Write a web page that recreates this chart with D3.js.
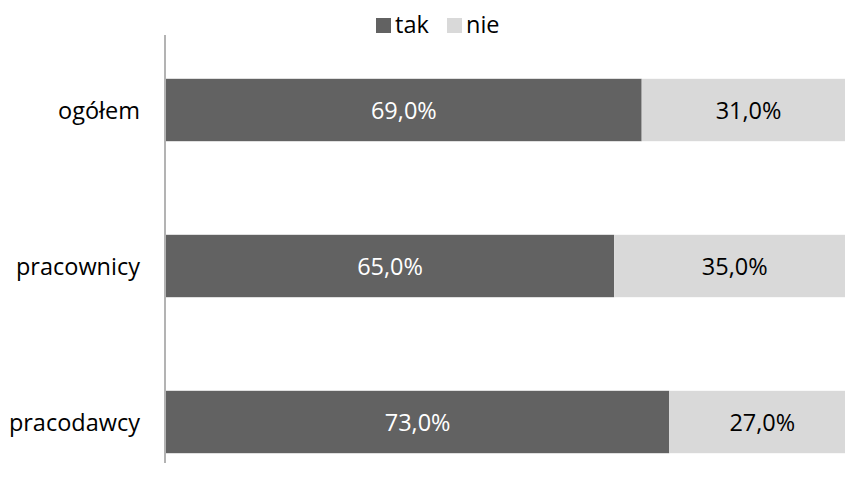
<!DOCTYPE html>
<html>
<head>
<meta charset="utf-8">
<script src="https://cdn.jsdelivr.net/npm/d3@7"></script>
<style>
  html, body { margin: 0; padding: 0; background: #fff; }
  svg { display: block; font-family: "Open Sans", "Noto Sans", sans-serif; }
</style>
</head>
<body>
<svg id="chart" width="845" height="491"></svg>
<script>
// Share of answers per respondent group
const categories = ["ogółem", "pracownicy", "pracodawcy"];
const seriesNames = ["tak", "nie"];
const takValues = [69.0, 65.0, 73.0];
const nieValues = [31.0, 35.0, 27.0];
const seriesColors = ["#626262", "#d9d9d9"];
const labelColors = ["#ffffff", "#000000"];

const fontSize = 23.5;
const svg = d3.select("#chart");

const x = d3.scaleLinear().domain([0, 100]).range([166, 855.4]);
const y = d3.scaleBand().domain(categories).range([32, 500])
  .paddingInner(0.6).paddingOuter(0.3);

const rows = categories.map((c, i) => ({ cat: c, tak: takValues[i], nie: nieValues[i] }));
const stacked = d3.stack().keys(seriesNames)(rows);

const fmt = v => v.toFixed(1).replace(".", ",") + "%";

const groups = svg.selectAll("g.series").data(stacked).join("g")
  .attr("class", "series")
  .attr("fill", (d, i) => seriesColors[i]);

groups.selectAll("rect").data(d => d).join("rect")
  .attr("x", d => x(d[0]))
  .attr("y", d => y(d.data.cat))
  .attr("width", d => x(d[1]) - x(d[0]))
  .attr("height", y.bandwidth());

// value labels, centred in each segment
stacked.forEach((s, si) => {
  svg.append("g").selectAll("text").data(s).join("text")
    .attr("x", d => (x(d[0]) + x(d[1])) / 2)
    .attr("y", d => y(d.data.cat) + y.bandwidth() / 2)
    .attr("text-anchor", "middle")
    .attr("dominant-baseline", "central")
    .attr("font-size", fontSize)
    .attr("fill", labelColors[si])
    .text(d => fmt(d[1] - d[0]));
});

// category axis
svg.append("line")
  .attr("x1", 165).attr("x2", 165)
  .attr("y1", 35).attr("y2", 463)
  .attr("stroke", "#9a9a9a").attr("stroke-width", 1.5);

svg.append("g").selectAll("text").data(categories).join("text")
  .attr("x", 140)
  .attr("y", d => y(d) + y.bandwidth() / 2)
  .attr("text-anchor", "end")
  .attr("dominant-baseline", "central")
  .attr("font-size", fontSize)
  .attr("fill", "#000")
  .text(d => d);

// legend
const legendX = [376, 447];
const legend = svg.append("g").selectAll("g").data(seriesNames).join("g")
  .attr("transform", (d, i) => `translate(${legendX[i]},18)`);
legend.append("rect").attr("width", 15).attr("height", 15)
  .attr("fill", (d, i) => seriesColors[i]);
legend.append("text").attr("x", 19).attr("y", 6)
  .attr("dominant-baseline", "central")
  .attr("font-size", fontSize).attr("fill", "#000")
  .text(d => d);
</script>
</body>
</html>
